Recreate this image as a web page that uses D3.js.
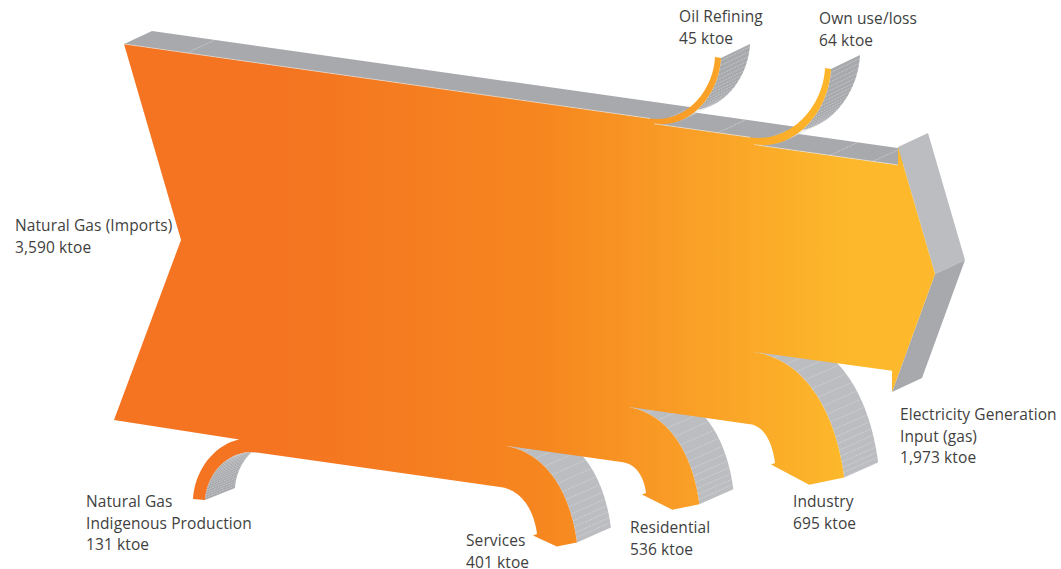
<!DOCTYPE html>
<html><head><meta charset="utf-8">
<script src="https://cdn.jsdelivr.net/npm/d3@7"></script>
<style>html,body{margin:0;padding:0;background:#fff}svg{display:block}text{font-family:"Open Sans",sans-serif;font-size:15.5px;letter-spacing:.1px;fill:#3f3f41}</style>
</head><body><svg id="c" width="1061" height="569"></svg>
<script>
// ---- data (ktoe) ----
const imports = 3590;
const categories = ["Natural Gas Indigenous Production","Services","Residential","Industry","Oil Refining","Own use/loss","Electricity Generation Input (gas)"];
const values = [131,401,536,695,45,64,1973];
const labelLines = [["Natural Gas","Indigenous Production","131 ktoe"],["Services","401 ktoe"],["Residential","536 ktoe"],["Industry","695 ktoe"],["Oil Refining","45 ktoe"],["Own use/loss","64 ktoe"],["Electricity Generation","Input (gas)","1,973 ktoe"]];
const importLabel = ["Natural Gas (Imports)","3,590 ktoe"];
// ---- layout ----
const branchAt   = [257,500,623,750,650,750];      // x where each branch leaves the trunk edge
const branchEndX = [193,537,646,775,721,831];      // x of the curve's end
const branchEndY = [499,534,493,463,57,68];
const labelX = [86,466,630,793,679,819,900], labelY=[507,546,533,507,22,24,420];
const importLabelPos = [15,231];
const stripeStep = [2.6,15,15,15,5,5];
const bandStripes = [187,718,830,873];
const backStep = [695,797];                        // x where the band's rear edge steps, hidden by the ribbons

const w = d3.scaleLinear().domain([0,imports]).range([0,376]);
const edge = d3.scaleLinear().domain([124,898]).range([44,44+774*0.1415]);
const svg = d3.select("#c");
const line = d3.line().x(d=>d[0]).y(d=>d[1]);
const defs = svg.append("defs");
const grad = defs.append("linearGradient").attr("id","g").attr("gradientUnits","userSpaceOnUse").attr("x1",280).attr("x2",850).attr("y1",0).attr("y2",0);
[[0,"#F47421"],[0.456,"#F6861F"],[0.702,"#F99D26"],[1,"#FDB92B"]].forEach(s=>grad.append("stop").attr("offset",s[0]).attr("stop-color",s[1]));

const GRAY_D="#A7A9AC", GRAY_L="#BBBDC0", STRIPE="#E6E7E8";
function bez(p0,c1,c2,p3,n=40){return d3.range(n+1).map(i=>{const t=i/n,u=1-t;return [0,1].map(k=>u*u*u*p0[k]+3*u*u*t*c1[k]+3*u*t*t*c2[k]+t*t*t*p3[k]);});}
const S=0.1415;
function curve(a,b,tx){
  const dx=Math.abs(b[0]-a[0]), dy=Math.abs(b[1]-a[1]), sg=Math.sign(b[1]-a[1]), sx=Math.sign(b[0]-a[0]);
  return bez(a,[a[0]+sx*0.55*dx,a[1]+sx*0.55*dx*S],[b[0]-tx*sg*0.55*dy,b[1]-sg*0.55*dy],b);
}
const vs=values.map(v=>w(v));
const topY=(x,off)=>edge(x)+off;
const botY=(x,off,width)=>edge(x)+off+width;
const full=w(imports+values[0]);

const branches={};
{ const i=0,W=vs[0],x0=branchAt[i];
  const oEnd=[branchEndX[i],branchEndY[i]], iEnd=[oEnd[0]+12,oEnd[1]+1];
  const iStart=[x0,botY(x0,0,full)];
  const oStart=[x0,botY(x0,0,full)-W];
  branches[i]={inner:curve(iStart,iEnd,-0.05),outer:curve(oStart,oEnd,-0.05)};
}
let remain=full;
[1,2,3].forEach(i=>{const W=vs[i],x0=branchAt[i];
  const oStart=[x0,botY(x0,0,remain)];
  const oEnd=[branchEndX[i],branchEndY[i]];
  const iEnd=[oEnd[0]+0.95*W,oEnd[1]+0.2*W];
  remain-=W;
  const iStart=[x0+3,botY(x0+3,0,remain)];
  branches[i]={outer:curve(oStart,oEnd,0.13),inner:curve(iStart,iEnd,0.13),oEnd,iEnd,
    tip:[oEnd[0]+0.47*W,oEnd[1]+0.3*W],flare:[oEnd[0]-4,oEnd[1]+1.5]};
});
let topOff=0;
[4,5].forEach(i=>{const W=vs[i],x0=branchAt[i];
  const oStart=[x0,topY(x0,topOff)];
  const oEnd=[branchEndX[i]-6,branchEndY[i]];
  topOff+=W;
  const iStart=[x0+4,topY(x0+4,topOff)];
  const iEnd=[branchEndX[i],branchEndY[i]+1];
  branches[i]={outer:curve(oStart,oEnd,-0.05),inner:curve(iStart,iEnd,-0.05),oEnd,iEnd};
});

function pointAt(pts,s){
  let acc=0;
  for(let k=1;k<pts.length;k++){
    const seg=Math.hypot(pts[k][0]-pts[k-1][0],pts[k][1]-pts[k-1][1]);
    if(acc+seg>=s){const t=(s-acc)/seg;return [pts[k-1][0]+t*(pts[k][0]-pts[k-1][0]),pts[k-1][1]+t*(pts[k][1]-pts[k-1][1])];}
    acc+=seg;
  }
  return pts[pts.length-1];
}
function lengthOf(pts){return d3.sum(pts.slice(1),(p,k)=>Math.hypot(p[0]-pts[k][0],p[1]-pts[k][1]));}
function ribbon(pts,ex,ey,fill,step,taper){
  const g=svg.append("g");
  const back=pts.map(p=>[p[0]+ex,p[1]+ey]).reverse();
  g.append("path").attr("d",line(pts.concat(back))+"Z").attr("fill",fill);
  const len=lengthOf(pts);
  let s=step*0.5;
  while(s<len){
    const p=pointAt(pts,s);
    g.append("line").attr("x1",p[0]).attr("y1",p[1]).attr("x2",p[0]+ex).attr("y2",p[1]+ey)
      .attr("stroke",STRIPE).attr("stroke-width",.45).attr("stroke-dasharray","2 1");
    s+=step*(1-taper*s/len);
  }
}

const EXT=[28,-13];
const topOil=vs[4], topOwn=w(values[4]+values[5]);
const xO=branchAt[4], xW=branchAt[5];
const topPts=[[124,edge(124)],[xO,topY(xO,0)],[xO+4,topY(xO+4,topOil)],[xW,topY(xW,topOil)],[xW+4,topY(xW+4,topOwn)],[898,topY(898,topOwn)]];
const backAt=(x,off)=>[x,edge(x-EXT[0])+EXT[1]+off];
const bandBack=[backAt(926,topOwn),backAt(backStep[1],topOwn),backAt(backStep[1],topOil),backAt(backStep[0],topOil),backAt(backStep[0],0),backAt(152,0)];
svg.append("path").attr("d",line(topPts.concat(bandBack))+"Z").attr("fill",GRAY_D);
bandStripes.forEach(x=>{const off=x>xW?topOwn:x>xO?topOil:0;
  svg.append("line").attr("x1",x).attr("y1",topY(x,off)).attr("x2",x+EXT[0]).attr("y2",topY(x,off)+EXT[1]).attr("stroke",STRIPE).attr("stroke-width",.5).attr("stroke-dasharray","2 1");});

ribbon(branches[4].inner,29,-14,GRAY_D,stripeStep[4],0);
ribbon(branches[5].inner,29,-14,GRAY_D,stripeStep[5],0);
ribbon(branches[0].inner,30,-12,GRAY_D,stripeStep[0],0);
[1,2,3].forEach(i=>ribbon(branches[i].inner,34,-15,GRAY_L,stripeStep[i],0.7));
{const o=branches[0].outer.slice(0,8);
 svg.append("path").attr("d",line(o.map(p=>[p[0]+1,p[1]-2]).concat(o.slice().reverse()))+"Z").attr("fill",GRAY_L);}

const tail=[[124,44],[181,240],[114,420]];
const tipTop=[898,147], tip=[935,274], tipBot=[892,392], headIn=[892,botY(892,topOwn,vs[6])];
const headExt=[30,-14];
const e=p=>[p[0]+headExt[0],p[1]+headExt[1]];
svg.append("path").attr("d",line([tipTop,e(tipTop),e(tip),tip])+"Z").attr("fill",GRAY_L);
svg.append("path").attr("d",line([tip,e(tip),e(tipBot),tipBot])+"Z").attr("fill",GRAY_D);

let outline=[tail[0]];
outline.push(...branches[4].outer,...branches[4].inner.slice().reverse());
outline.push(...branches[5].outer,...branches[5].inner.slice().reverse());
outline.push([898,topY(898,topOwn)],tipTop,tip,tipBot,headIn);
[3,2,1].forEach(i=>{const b=branches[i];
  outline.push(...b.inner,b.tip,b.flare,...b.outer.slice().reverse());
});
{const b=branches[0];
 outline.push(...b.inner,...b.outer.slice().reverse().slice(0,34));}
outline.push(tail[2],tail[1]);
svg.append("path").attr("d",line(outline)+"Z").attr("fill","url(#g)");
// pale seam along the trunk's upper edge
[[topPts[0],topPts[1]],[topPts[2],topPts[3]],[topPts[4],topPts[5]]].forEach(sg=>
  svg.append("path").attr("d",line(sg)).attr("stroke","#E6E7E8").attr("stroke-width",.6).attr("fill","none"));

function lab(lines,x,y){const t=svg.append("text").attr("x",x).attr("y",y);
  lines.forEach((l,i)=>t.append("tspan").attr("x",x).attr("y",y+i*21.5).text(l));}
lab(importLabel,importLabelPos[0],importLabelPos[1]);
labelLines.forEach((l,i)=>lab(l,labelX[i],labelY[i]));
</script></body></html>
